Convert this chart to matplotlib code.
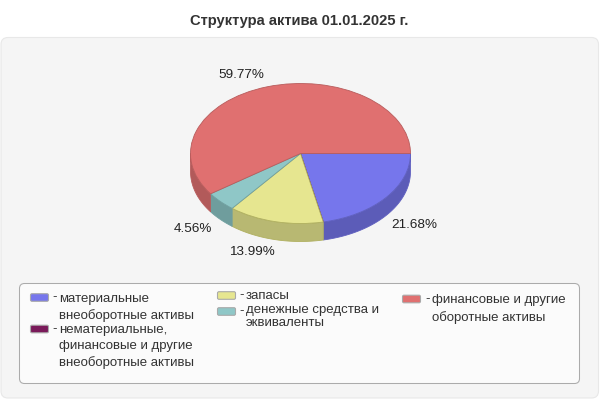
import numpy as np
import matplotlib
matplotlib.use("Agg")
import matplotlib.pyplot as plt
from matplotlib.patches import FancyBboxPatch, Polygon

plt.rcParams['font.family'] = ['Liberation Sans', 'DejaVu Sans']

title = "Структура актива 01.01.2025 г."
labels = ["материальные\nвнеоборотные активы",
          "нематериальные,\nфинансовые и другие\nвнеоборотные активы",
          "запасы",
          "денежные средства и\nэквиваленты",
          "финансовые и другие\nоборотные активы"]
values = [21.68, 0.0, 13.99, 4.56, 59.77]
top_colors = ["#7676ec", "#7a1a5a", "#e6e690", "#8fc7c7", "#e07070"]
side_colors = ["#5c5cb8", "#5e1446", "#b8b872", "#6f9d9d", "#b25a5a"]
edge_colors = ["#6060c0", "#5e1446", "#b0b060", "#70a0a0", "#b85c5c"]

W, H = 600, 400
fig = plt.figure(figsize=(6, 4), dpi=100, facecolor="white")
bg = fig.add_axes([0, 0, 1, 1])
bg.set_xlim(0, W); bg.set_ylim(H, 0); bg.axis("off")

def rbox(ax, x0, y0, x1, y1, r, fc, ec, lw=1.0, z=1):
    ax.add_patch(FancyBboxPatch((x0 + r, y0 + r), x1 - x0 - 2 * r, y1 - y0 - 2 * r,
                                boxstyle=f"round,pad={r},rounding_size={r}",
                                fc=fc, ec=ec, lw=lw, zorder=z))

rbox(bg, 1, 37.5, 598.5, 398, 7, "#f5f5f5", "#e8e8e8", 0.8, 1)
rbox(bg, 19.5, 283.5, 579.5, 383.5, 5, "#fbfbfb", "#ababab", 0.75, 2)
bg.text(299.5, 21, title, ha="center", va="center", fontsize=10.6,
        fontweight="bold", color="#333333")

# pie axes
cx, cy, rx, ry, depth = 300.5, 153.5, 110, 70, 18
pax = fig.add_axes([(cx - rx) / W, 1 - (cy + ry) / H, 2 * rx / W, 2 * ry / H])
pax.set_xlim(-1, 1); pax.set_ylim(-1, 1); pax.axis("off")
d = depth / ry
cum = np.cumsum([0] + values) / sum(values) * 2 * np.pi
for i, v in enumerate(values):
    a0, a1 = cum[i], min(cum[i + 1], np.pi)
    if v <= 0 or a0 >= np.pi:
        continue
    t = np.linspace(a0, a1, 80)
    x, y = np.cos(t), -np.sin(t)
    pts = np.r_[np.c_[x, y], np.c_[x[::-1], y[::-1] - d]]
    pax.add_patch(Polygon(pts, closed=True, fc=side_colors[i], ec=edge_colors[i],
                          lw=0.6, clip_on=False, zorder=1))
wedges, _ = pax.pie(values, colors=top_colors, startangle=0, counterclock=False,
                    radius=1, wedgeprops=dict(lw=0.6, zorder=3))
for w, e in zip(wedges, edge_colors):
    w.set_edgecolor(e); w.set_clip_on(False)
pax.set_aspect("auto"); pax.set_xlim(-1, 1); pax.set_ylim(-1, 1)

# value labels
lab_xy = [(414, 224.5), None, (251.5, 252), (193, 228.5), (241, 74.5)]
for v, xy in zip(values, lab_xy):
    if xy:
        bg.text(xy[0], xy[1], f"{v:.2f}%", ha="center", va="center",
                fontsize=9.7, color="#222222", zorder=6)

# legend
leg = [(30.5, 297.5, 59, 299.5), (30.5, 329, 59, 330.5), (217.5, 295.5, 246, 296.5),
       (217.5, 311.5, 246, 311), (402.5, 299, 432, 301)]
spacing = [1.42, 1.42, 1.42, 1.05, 1.42]
for i, (sx, sy, tx, ty) in enumerate(leg):
    rbox(bg, sx, sy - 3.8, sx + 18, sy + 3.8, 1.5, top_colors[i], "#aaaaaa", 0.8, 3)
    bg.text(tx - 7, sy, "-", ha="left", va="center", fontsize=9.5, color="#333333", zorder=4)
    bg.text(tx, ty - 6.5, labels[i], ha="left", va="top", fontsize=9.5, color="#333333",
            linespacing=spacing[i], zorder=4)

fig.savefig("out.png", dpi=100, facecolor="white")
